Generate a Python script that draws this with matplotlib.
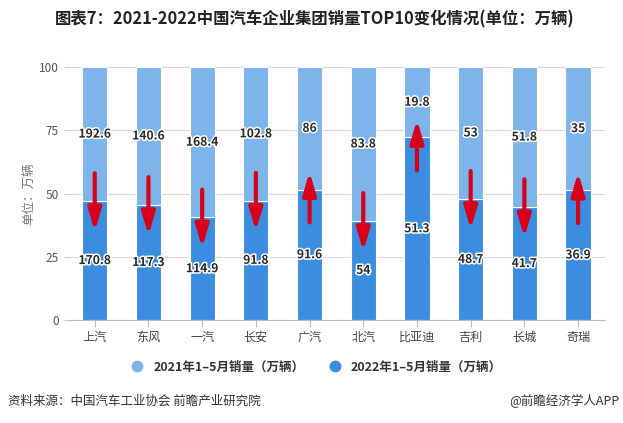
import numpy as np
import matplotlib.pyplot as plt
import matplotlib.patheffects as pe
from matplotlib.lines import Line2D

plt.rcParams['font.family'] = ['Noto Sans CJK SC', 'DejaVu Sans']

# data (万辆)
companies = ['上汽', '东风', '一汽', '长安', '广汽', '北汽', '比亚迪', '吉利', '长城', '奇瑞']
sales_2021 = [192.6, 140.6, 168.4, 102.8, 86, 83.8, 19.8, 53, 51.8, 35]
sales_2022 = [170.8, 117.3, 114.9, 91.8, 91.6, 54, 51.3, 48.7, 41.7, 36.9]
yticks = [0, 25, 50, 75, 100]

c_2021 = '#7db4ea'
c_2022 = '#3b8de0'
c_arrow = '#d9001b'

s21 = np.array(sales_2021)
s22 = np.array(sales_2022)
total = s21 + s22
pct22 = s22 / total * 100
pct21 = s21 / total * 100
x = np.arange(len(companies))

fig = plt.figure(figsize=(6.23, 4.23), dpi=100)
ax = fig.add_axes([0.109, 0.2435, 0.862, 0.598])

ax.bar(x, pct22, width=0.47, color=c_2022, edgecolor='white', linewidth=0.8, zorder=2)
ax.bar(x, pct21, bottom=pct22, width=0.47, color=c_2021, edgecolor='white', linewidth=0.8, zorder=2)

halo = [pe.withStroke(linewidth=2.2, foreground='white')]
for i in range(len(x)):
    ax.text(x[i], pct22[i] / 2, f'{sales_2022[i]:g}', ha='center', va='center', fontsize=8.7,
            fontweight='bold', color='#2a2a2a', path_effects=halo, zorder=4)
    ax.text(x[i], pct22[i] + pct21[i] / 2, f'{sales_2021[i]:g}', ha='center', va='center', fontsize=8.7,
            fontweight='bold', color='#2a2a2a', path_effects=halo, zorder=4)
    # change arrows around the split line
    b = pct22[i]
    if s22[i] < s21[i]:
        tail, head = b + 11, b - 12
    else:
        tail, head = b - 13, b + 7
    ax.annotate('', xy=(x[i], head), xytext=(x[i], tail),
                arrowprops=dict(arrowstyle='-|>,head_width=0.4,head_length=1.35',
                                lw=3, color=c_arrow, shrinkA=0, shrinkB=0), zorder=5)

ax.set_xlim(-0.5, len(x) - 0.5)
ax.set_ylim(0, 100)
ax.set_yticks(yticks)
ax.set_xticks(x)
ax.set_xticklabels(companies, fontsize=8.7, color='#444444')
ax.tick_params(axis='y', labelsize=8.5, labelcolor='#555555', color='#cccccc', length=3, width=0.8)
ax.tick_params(axis='x', color='#bbbbbb', length=5, width=0.8, pad=3)
ax.grid(axis='y', color='#d9d9d9', linewidth=0.8, zorder=0)
for side in ['top', 'right', 'left']:
    ax.spines[side].set_visible(False)
ax.spines['bottom'].set_color('#bbbbbb')
ax.set_ylabel('单位：万辆', fontsize=9, color='#777777', labelpad=3)

fig.text(0.505, 0.953, '图表7：2021-2022中国汽车企业集团销量TOP10变化情况(单位：万辆)',
         ha='center', va='center', fontsize=11.8, fontweight='bold', color='#222222')

handles = [Line2D([], [], marker='o', linestyle='', markersize=7.5, color=c_2021),
           Line2D([], [], marker='o', linestyle='', markersize=7.5, color=c_2022)]
fig.legend(handles, ['2021年1–5月销量（万辆）', '2022年1–5月销量（万辆）'],
           loc='center', bbox_to_anchor=(0.503, 0.132), ncol=2, frameon=False,
           prop={'size': 9, 'weight': 'bold'}, labelcolor='#333333',
           handletextpad=0.3, columnspacing=1.4)

fig.text(0.013, 0.052, '资料来源：中国汽车工业协会 前瞻产业研究院', ha='left', va='center',
         fontsize=9, color='#333333')
fig.text(0.995, 0.052, '@前瞻经济学人APP', ha='right', va='center', fontsize=9, color='#333333')

fig.savefig('out.png', dpi=100)
